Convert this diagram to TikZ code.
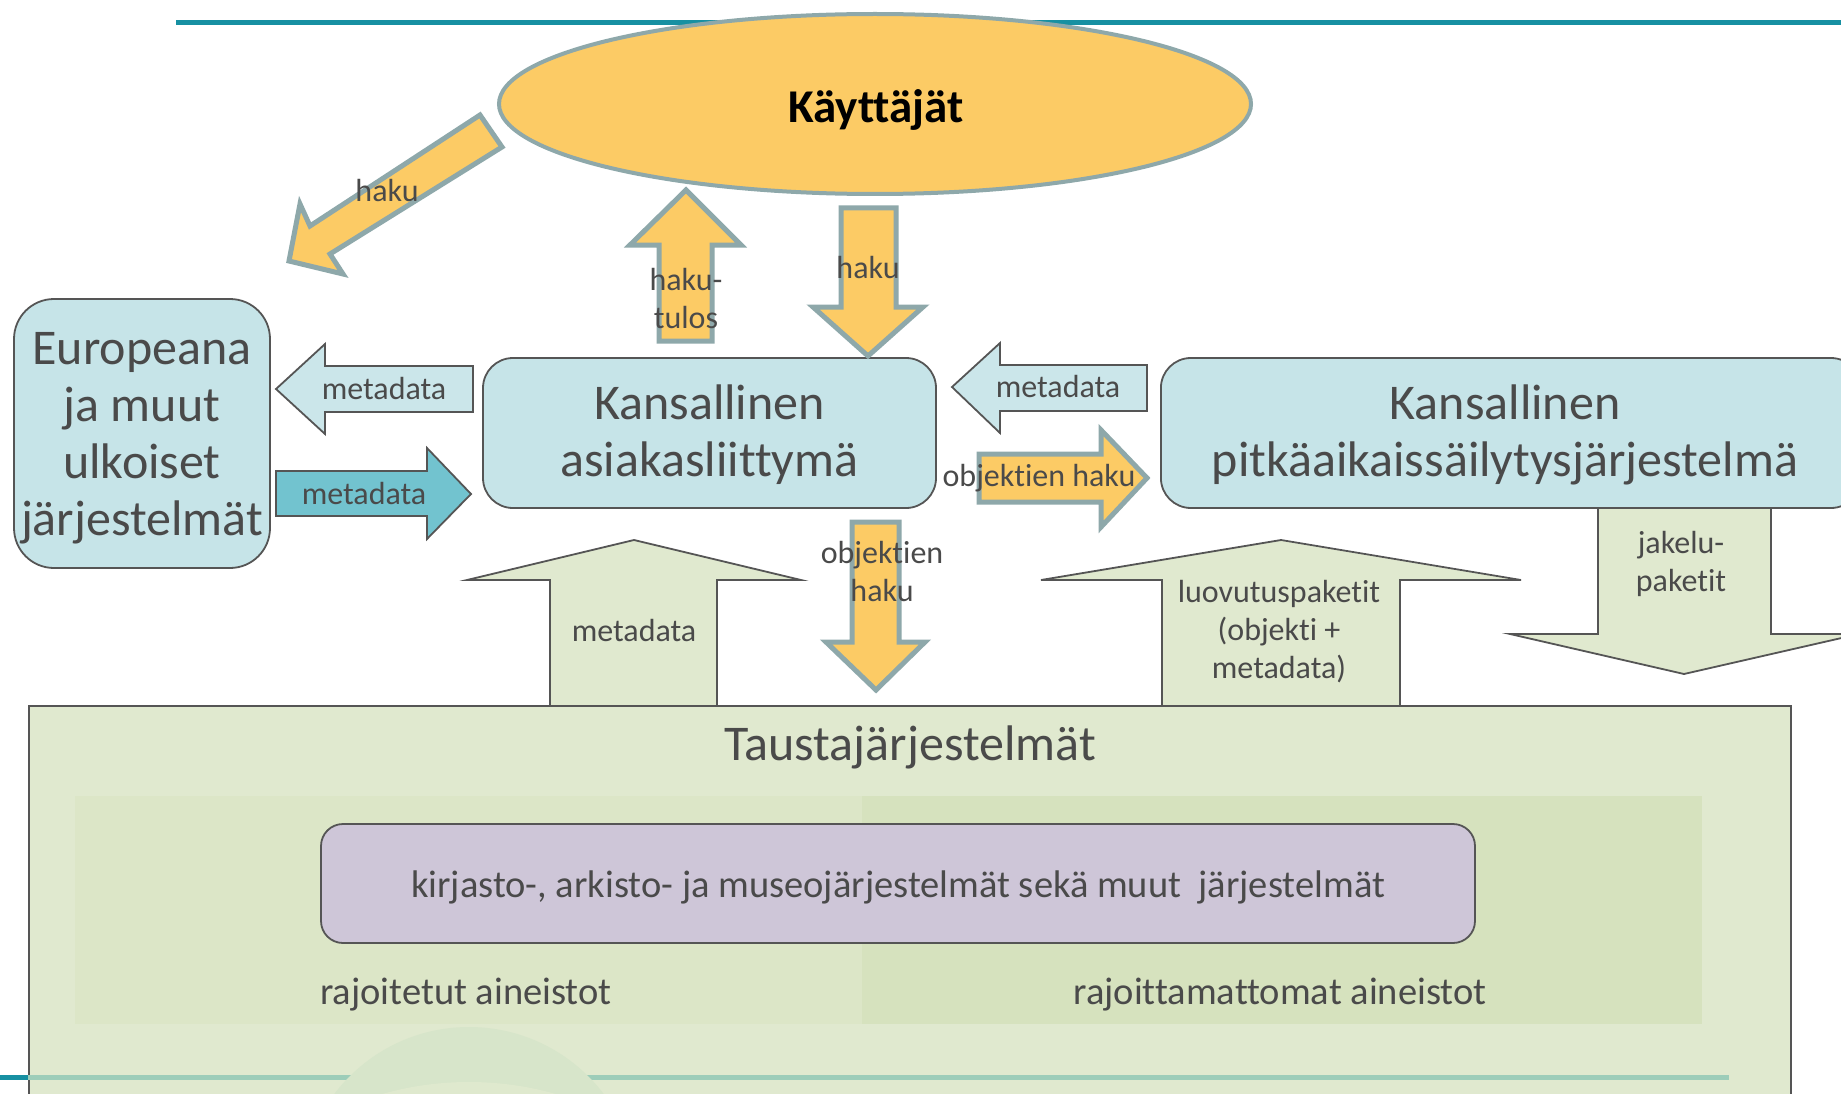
\documentclass[tikz,border=0pt]{standalone}
\usepackage{fontspec}
\setmainfont[Ligatures={NoCommon}]{Carlito}
\usetikzlibrary{shapes.geometric}
\definecolor{ora}{HTML}{FCCB65}
\definecolor{oraedge}{HTML}{8EA8AA}
\definecolor{lblue}{HTML}{C6E4E8}
\definecolor{lblue2}{HTML}{CBE6EA}
\definecolor{dteal}{HTML}{72C3CF}
\definecolor{lgreen}{HTML}{E0E9CF}
\definecolor{ingreenA}{HTML}{DCE6C7}
\definecolor{ingreenB}{HTML}{D6E2BE}
\definecolor{purp}{HTML}{CEC6D8}
\definecolor{edge}{HTML}{555555}
\definecolor{txt}{HTML}{4A4A4A}
\definecolor{topline}{HTML}{1790A2}
\definecolor{botline}{HTML}{9DCDB9}
\definecolor{circA}{HTML}{D7E5CA}
\definecolor{circB}{HTML}{DFE9CE}
\begin{document}
\begin{tikzpicture}[x=1pt,y=-1pt,
  orarrow/.style={fill=ora,draw=oraedge,line width=5pt,line join=miter},
  bluearrow/.style={fill=lblue2,draw=edge,line width=1.8pt,line join=miter},
  tealarrow/.style={fill=dteal,draw=edge,line width=1.8pt,line join=miter},
  greenarrow/.style={fill=lgreen,draw=edge,line width=1.8pt,line join=miter},
  bluebox/.style={draw=edge,fill=lblue,line width=1.8pt,align=center,text=txt,
     font=\fontsize{50}{57}\selectfont,inner sep=0pt},
  lbl/.style={text=txt,align=center,font=\fontsize{32}{38}\selectfont,inner sep=0pt},
  midtxt/.style={text=txt,align=center,font=\fontsize{38.5}{44}\selectfont,inner sep=0pt}]
\useasboundingbox (0,0) rectangle (1841,1094);
\fill[white] (0,0) rectangle (1841,1094);
% top line
\draw[topline,line width=5pt] (176,23) -- (1841,23);

% background systems box
\draw[greenarrow] (550,705) -- (550,580) -- (467,580) -- (634,540) -- (801,580) -- (717,580) -- (717,705);
\draw[greenarrow] (1162,705) -- (1162,580) -- (1041,580) -- (1281,540) -- (1521,580) -- (1400,580) -- (1400,705);
\node[draw=edge,fill=lgreen,line width=1.8pt,minimum width=1762pt,minimum height=430pt,inner sep=0pt,anchor=north west] (tausta) at (28,705) {};
\fill[ingreenA] (75,796) rectangle (862,1024);
\fill[ingreenB] (862,796) rectangle (1702,1024);
\draw[topline,line width=5pt] (0,1077) -- (tausta.west |- 0,1077);
\draw[botline,line width=5pt] (tausta.west |- 0,1077) -- (1729,1077);
\begin{scope}
  \fill[circA] (469,1196) circle (169);
  \clip (469,1196) circle (169);
  \fill[circB] (469,1400) circle (318);
\end{scope}
\node[text=txt,font=\fontsize{50}{60}\selectfont,inner sep=0pt] (taustat) at (910,747) {Taustajärjestelmät};
\node[draw=edge,fill=purp,line width=1.8pt,rounded corners=22pt,minimum width=1154pt,minimum height=119pt,inner sep=0pt] (kam) at (898,883.5) {};
\node[midtxt] (kamt) at (898,887) {kirjasto-, arkisto- ja museojärjestelmät sekä muut\ \ järjestelmät};
\node[midtxt] (rajA) at (466,995) {rajoitetut aineistot};
\node[midtxt] (rajB) at (1280,995) {rajoittamattomat aineistot};

% jakelu arrow
\draw[greenarrow] (1598,490) -- (1598,634) -- (1510,634) -- (1684,674) -- (1859,634) -- (1771,634) -- (1771,490);

% users
\node[ellipse,fill=ora,draw=oraedge,line width=4pt,minimum width=752pt,minimum height=180pt,inner sep=0pt] (users) at (875,104) {};
\node[font=\fontsize{47}{52}\selectfont\bfseries,inner sep=0pt] (userst) at (876,110) {Käyttäjät};

% blue boxes
\node[bluebox,rounded corners=40pt,minimum width=256pt,minimum height=269pt] (eu) at (142,433.5) {};
\node[bluebox,draw=none,fill=none] (eut) at (142,438.5) {Europeana\\ja muut\\ulkoiset\\järjestelmät};
\node[bluebox,rounded corners=30pt,minimum width=453pt,minimum height=150pt] (asiakas) at (709.5,433) {};
\node[bluebox,draw=none,fill=none] (asiakast) at (709.5,435) {Kansallinen\\asiakasliittymä};
\node[bluebox,rounded corners=30pt,minimum width=700pt,minimum height=150pt,anchor=west] (pitka) at (1160,433) {};
\node[bluebox,draw=none,fill=none] (pitkat) at (1505,435) {Kansallinen\\pitkäaikaissäilytysjärjestelmä};

% orange arrows
\draw[orarrow] (480,115) -- (310,226) -- (300,204) -- (289,261) -- (343,274) -- (330,254) -- (502,147) -- cycle;
\draw[orarrow] (659,341) -- (659,245) -- (630,245) -- (686,190) -- (741,245) -- (712,245) -- (712,341) -- cycle;
\draw[orarrow] (841,208) -- (841,307) -- (813,307) -- (868,356) -- (923,307) -- (896,307) -- (896,208) -- cycle;
\draw[orarrow] (979,454) -- (1101,454) -- (1101,430) -- (1147,478) -- (1101,527) -- (1101,502) -- (979,502) -- cycle;
\draw[orarrow] (852,522) -- (852,642) -- (826,642) -- (876,690) -- (925,642) -- (899,642) -- (899,522) -- cycle;

% metadata arrows
\draw[bluearrow] (473,366) -- (325,366) -- (325,344) -- (276,389) -- (325,434) -- (325,412) -- (473,412) -- cycle;
\draw[tealarrow] (276,471) -- (427,471) -- (427,448) -- (471,494) -- (427,539) -- (427,516) -- (276,516) -- cycle;
\draw[bluearrow] (1147,365) -- (1000,365) -- (1000,343) -- (952,387) -- (1000,433) -- (1000,411) -- (1147,411) -- cycle;

% labels
\node[lbl] (l1) at (387,191) {haku};
\node[lbl] (l2) at (686,299) {haku-\\tulos};
\node[lbl] (l3) at (868,268) {haku};
\node[lbl] (l4) at (1039,478) {objektien haku};
\node[lbl] (l5) at (882,572) {objektien\\haku};
\node[lbl] (l6) at (384,389) {metadata};
\node[lbl] (l7) at (364,494) {metadata};
\node[lbl] (l8) at (1058,387) {metadata};
\node[lbl] (l9) at (634,631) {metadata};
\node[lbl] (l10) at (1279,632) {luovutuspaketit\\(objekti +\\metadata)};
\node[lbl] (l11) at (1681,564) {jakelu-\\paketit};
\end{tikzpicture}
\end{document}
